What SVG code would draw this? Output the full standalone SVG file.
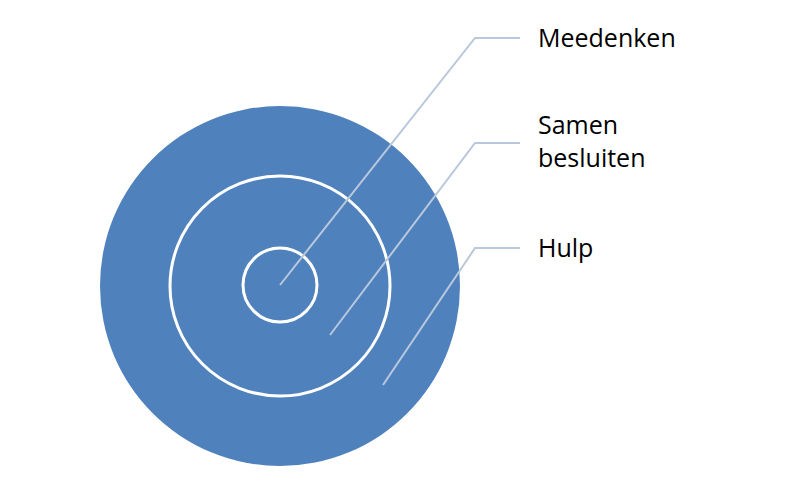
<svg xmlns="http://www.w3.org/2000/svg" width="800" height="486" viewBox="0 0 800 486">
<style>
.ring{fill:none;stroke:#fff;stroke-width:3}
.lead{fill:none;stroke:#b9c8dc;stroke-width:2}
text{font-family:"Open Sans","Liberation Sans",sans-serif;font-size:25px;fill:#000}
</style>
<rect width="800" height="486" fill="#fff"/>
<g id="outer"><circle cx="280" cy="286" r="180" fill="#4f81bd"/></g>
<g id="middle"><circle class="ring" cx="280" cy="286" r="110"/></g>
<g id="inner"><circle class="ring" cx="280" cy="285" r="37"/></g>
<g id="connectors">
<polyline class="lead" points="280,285 475,38 520,38"/>
<polyline class="lead" points="330,335 475,143 520,143"/>
<polyline class="lead" points="383,385 475,248 520,248"/>
</g>
<g id="label-meedenken"><text x="538" y="47">Meedenken</text></g>
<g id="label-samen"><text x="538" y="134">Samen</text><text x="538" y="167">besluiten</text></g>
<g id="label-hulp"><text x="538" y="257">Hulp</text></g>
</svg>
